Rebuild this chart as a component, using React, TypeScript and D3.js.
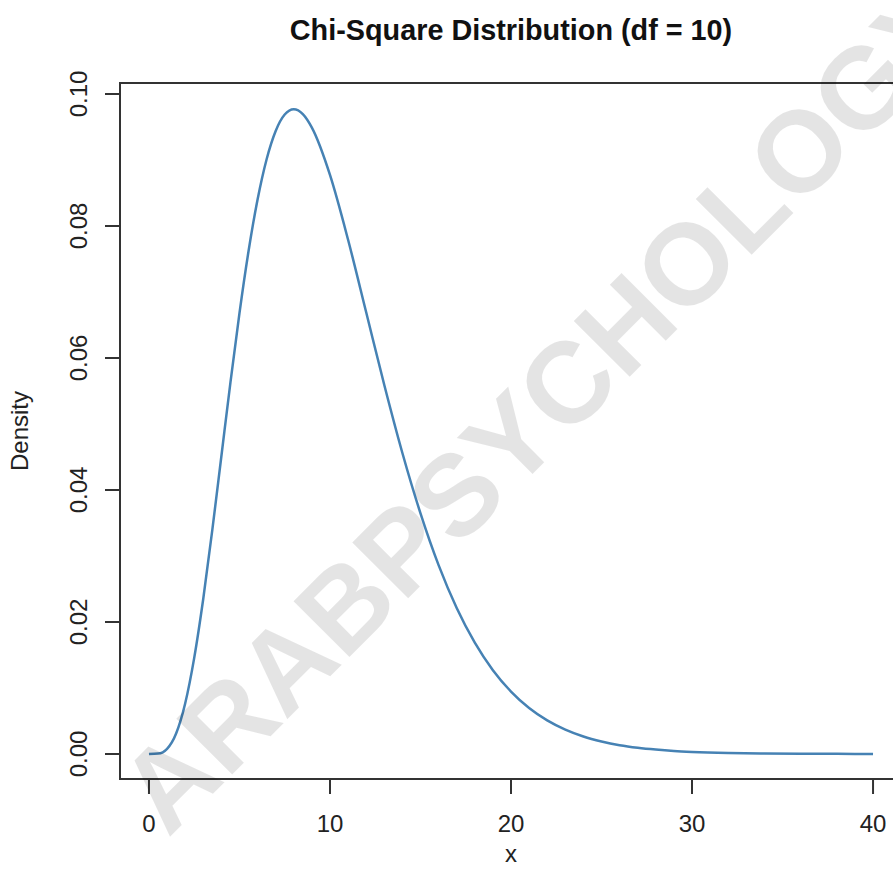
import React from 'react';
import * as d3 from 'd3';

// values
const xValues = [0, 0.5, 1, 1.5, 2, 2.5, 3, 3.5, 4, 4.5, 5, 5.5, 6, 6.5, 7, 7.5, 8, 8.5, 9, 10, 11, 12, 13, 14, 15, 16, 17, 18, 19, 20, 21, 22, 23, 24, 25, 26, 27, 28, 29, 30, 32, 34, 36, 38, 40];
const densityValues = [0, 0.00006, 0.00079, 0.00311, 0.00766, 0.01457, 0.02353, 0.03395, 0.04511, 0.05628, 0.0668, 0.07617, 0.08402, 0.09012, 0.0944, 0.09689, 0.09768, 0.09695, 0.0949, 0.08773, 0.07791, 0.06693, 0.05591, 0.04561, 0.03646, 0.02862, 0.02213, 0.01687, 0.0127, 0.00946, 0.00697, 0.00509, 0.00369, 0.00265, 0.0019, 0.00134, 0.00095, 0.00067, 0.00046, 0.00032, 0.00015, 0.00007, 0.00003, 0.00002, 0.00001];
const xTicks = [0, 10, 20, 30, 40];
const yTicks = [0, 0.02, 0.04, 0.06, 0.08, 0.1];

const W = 893, H = 890;
const left = 120, right = 902, top = 83, bottom = 779;
const font = '"Liberation Sans", Arial, Helvetica, sans-serif';

export default function App() {
  const x = d3.scaleLinear().domain([-1.6, 41.6]).range([left, right]);
  const y = d3.scaleLinear().domain([0, 0.1]).range([754, 94]);

  const pts = xValues.map((v, i) => [v, densityValues[i]] as [number, number]);
  const line = d3.line<[number, number]>()
    .x(d => x(d[0]))
    .y(d => y(d[1]))
    .curve(d3.curveMonotoneX);

  return (
    <svg width={W} height={H} style={{ position: 'absolute', left: 0, top: 0, background: '#fff' }} fontFamily={font}>
      <rect x={0} y={0} width={W} height={H} fill="#fff" />
      <text x={511} y={40} textAnchor="middle" fontSize={28.8} fontWeight="bold" fill="#111">
        Chi-Square Distribution (df = 10)
      </text>

      {/* plot box */}
      <rect x={left} y={top} width={right - left} height={bottom - top} fill="none" stroke="#333" strokeWidth={2} />

      {/* x axis */}
      {xTicks.map(t => (
        <g key={'x' + t}>
          <line x1={x(t)} x2={x(t)} y1={bottom} y2={bottom + 15} stroke="#333" strokeWidth={2} />
          <text x={x(t)} y={832} textAnchor="middle" fontSize={24} fill="#222">{t}</text>
        </g>
      ))}

      {/* y axis */}
      {yTicks.map(t => (
        <g key={'y' + t}>
          <line x1={left - 15} x2={left} y1={y(t)} y2={y(t)} stroke="#333" strokeWidth={2} />
          <text transform={`translate(87, ${y(t)}) rotate(-90)`} textAnchor="middle" fontSize={24} fill="#222">
            {t.toFixed(2)}
          </text>
        </g>
      ))}

      <text x={511} y={862} textAnchor="middle" fontSize={24} fill="#222">x</text>
      <text transform={`translate(28, ${(top + bottom) / 2}) rotate(-90)`} textAnchor="middle" fontSize={24} fill="#222">
        Density
      </text>

      <path d={line(pts) ?? ''} fill="none" stroke="#4682b4" strokeWidth={2.5} />

      {/* watermark */}
      <text transform="translate(543, 405) rotate(-45)" dy="0.36em" textAnchor="middle" fontSize={115}
        fontWeight="bold" fill="#000" fillOpacity={0.105}>
        ARABPSYCHOLOGY
      </text>
    </svg>
  );
}
